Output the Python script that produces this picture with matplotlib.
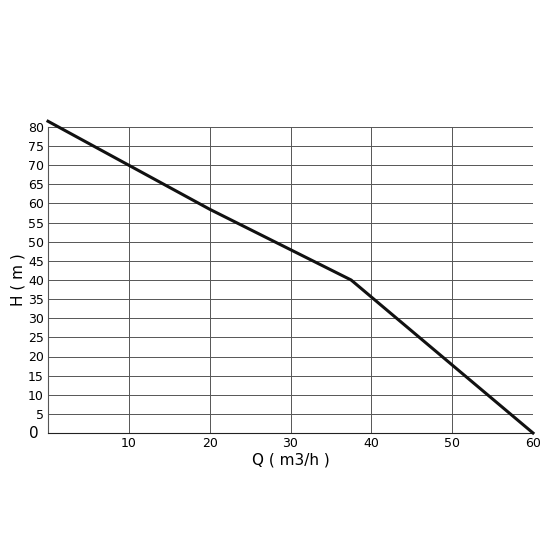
import matplotlib.pyplot as plt

q = [0, 10, 20, 37.5, 60]
h = [81.5, 70, 58.5, 40, 0]
xticks = [10, 20, 30, 40, 50, 60]
yticks = list(range(5, 85, 5))

fig = plt.figure(figsize=(5.5, 5.5), dpi=100)
ax = fig.add_axes([48/550, 1 - 433/550, 485/550, 306/550])
ax.plot(q, h, color='#111111', lw=2.2, clip_on=False, zorder=3)
ax.set_xlim(0, 60)
ax.set_ylim(0, 80)
ax.set_xticks(xticks)
ax.set_yticks(yticks)
ax.grid(True, color='#555555', lw=0.7)
for s in ['top', 'right']:
    ax.spines[s].set_visible(False)
ax.spines['left'].set_color('#555555')
ax.spines['bottom'].set_color('#222222')
ax.tick_params(length=0, labelsize=9, pad=3)
ax.text(-1.2, 0, '0', fontsize=11, ha='right', va='center')
ax.text(60, -1.5, '', fontsize=9)
ax.set_xlabel('Q ( m3/h )', fontsize=11, labelpad=2)
ax.set_ylabel('H ( m )', fontsize=11, labelpad=2)
fig.savefig('out.png', dpi=100)
